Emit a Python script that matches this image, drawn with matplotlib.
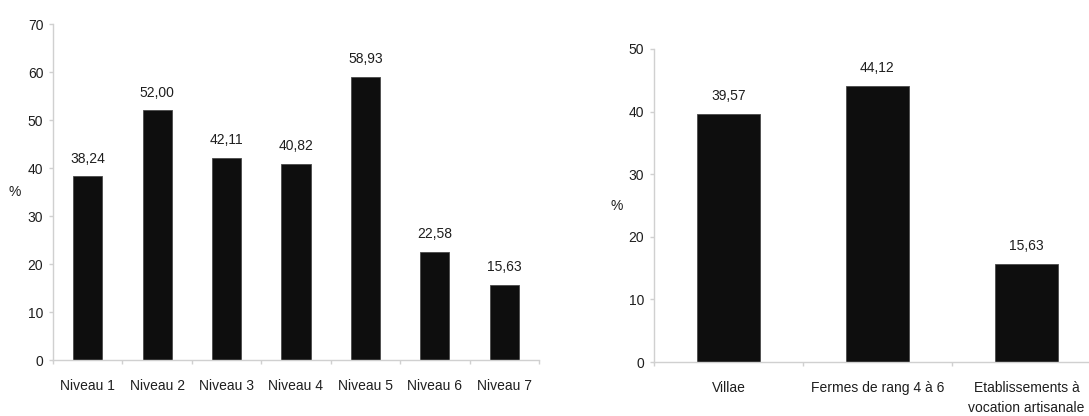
import matplotlib
matplotlib.use("Agg")
import matplotlib.pyplot as plt
import numpy as np

# Data
niveaux = ["Niveau 1", "Niveau 2", "Niveau 3", "Niveau 4", "Niveau 5", "Niveau 6", "Niveau 7"]
niveaux_vals = [38.24, 52.00, 42.11, 40.82, 58.93, 22.58, 15.63]

types = ["Villae", "Fermes de rang 4 à 6", "Etablissements à\nvocation artisanale"]
types_vals = [39.57, 44.12, 15.63]

plt.rcParams['font.family'] = ['Liberation Sans', 'DejaVu Sans']
TEXT = '#1e1e1e'
SPINE = '#d0d0d0'
BAR = '#0e0e0e'

fig = plt.figure(figsize=(10.89, 4.16), dpi=100)
W, H = 1089, 416

def make_ax(l, r, t, b):
    return fig.add_axes([l / W, 1 - b / H, (r - l) / W, (b - t) / H])

def style(ax, n, ymax, step, label_x, xpad):
    ax.set_xlim(-0.5, n - 0.5)
    ax.set_ylim(0, ymax)
    ax.set_yticks(np.arange(0, ymax + 0.1, step))
    ax.set_yticklabels([f"{int(v)}" for v in np.arange(0, ymax + 0.1, step)])
    for s in ['top', 'right']:
        ax.spines[s].set_visible(False)
    for s in ['left', 'bottom']:
        ax.spines[s].set_color(SPINE)
        ax.spines[s].set_linewidth(1.0)
    ax.set_xticks(np.arange(-0.5, n, 1.0), minor=True)
    ax.tick_params(axis='x', which='major', length=0, pad=xpad, labelsize=10, labelcolor=TEXT)
    ax.tick_params(axis='x', which='minor', length=3, color=SPINE, width=1)
    ax.tick_params(axis='y', length=3, color=SPINE, width=1, pad=4, labelsize=10, labelcolor=TEXT)
    ax.set_ylabel('%', rotation=0, fontsize=10, color=TEXT, va='center', ha='center')
    ax.yaxis.set_label_coords(label_x, 0.5)

# Left chart
ax1 = make_ax(53, 539, 24, 360)
x1 = np.arange(len(niveaux))
ax1.bar(x1, niveaux_vals, width=0.42, color=BAR, edgecolor='#4a4a4a', linewidth=0.6)
ax1.set_xticks(x1)
ax1.set_xticklabels(niveaux)
style(ax1, len(niveaux), 70, 10, -0.078, 13.5)
for xi, v in zip(x1, niveaux_vals):
    ax1.annotate(f"{v:.2f}".replace('.', ','), (xi, v), xytext=(0, 10), textcoords='offset points',
                 ha='center', va='baseline', fontsize=10, color=TEXT)

# Right chart
ax2 = make_ax(654, 1101, 49, 362)
x2 = np.arange(len(types))
ax2.bar(x2, types_vals, width=0.42, color=BAR, edgecolor='#4a4a4a', linewidth=0.6)
ax2.set_xticks(x2)
ax2.set_xticklabels(types, linespacing=1.5)
style(ax2, len(types), 50, 10, -0.083, 14)
for xi, v in zip(x2, types_vals):
    ax2.annotate(f"{v:.2f}".replace('.', ','), (xi, v), xytext=(0, 10), textcoords='offset points',
                 ha='center', va='baseline', fontsize=10, color=TEXT)

fig.savefig("out.png", dpi=100)
